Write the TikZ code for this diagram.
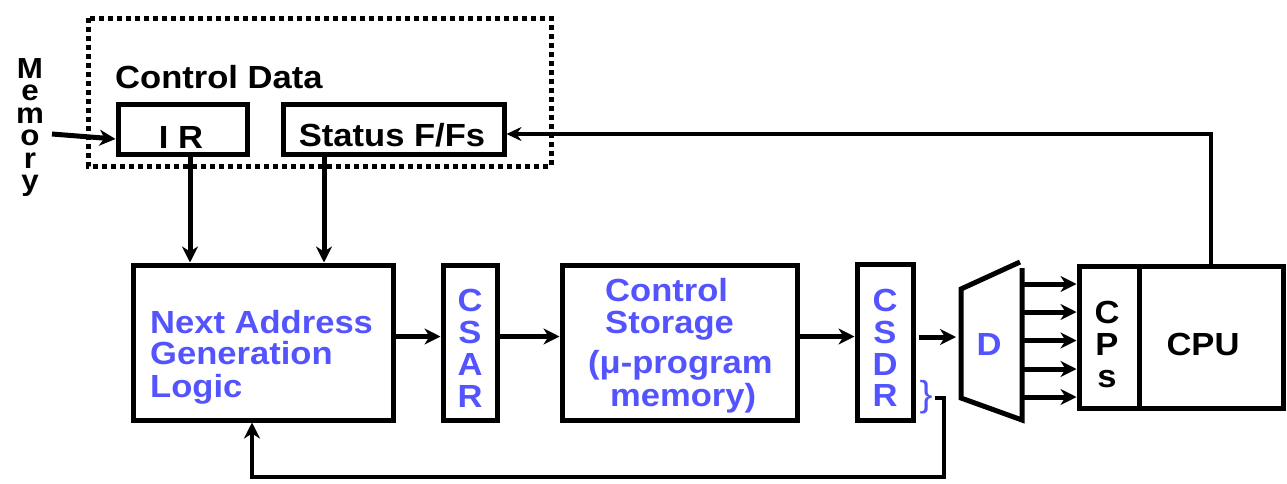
\documentclass[tikz,border=0pt]{standalone}
\usepackage{fontspec}
\setmainfont{Liberation Sans}[FakeStretch=1.08]
\usetikzlibrary{arrows.meta}
\definecolor{lblblue}{RGB}{84,84,255}
\begin{document}
\begin{tikzpicture}[x=1pt,y=-1pt,
  blk/.style={draw, line width=5pt, rectangle, inner sep=0pt},
  edge/.style={line width=5pt},
  txt/.style={font=\fontsize{32}{32}\selectfont\bfseries, inner sep=0pt},
  bluetxt/.style={txt, text=lblblue},
  wire/.style={line width=5pt},
  arr/.style={wire, -{Stealth[length=16pt,width=16pt,inset=5pt]}},
  thinarr/.style={line width=4pt, -{Stealth[length=15pt,width=14pt,inset=5pt]}},
  dotbox/.style={line width=5pt, dash pattern=on 5pt off 4pt}
]
\useasboundingbox (0,0) rectangle (1287,483);

% control data group
\draw[dotbox] (88,18) rectangle (551,166);
\node[txt, anchor=base west] (cdata) at (115,88) {Control Data};
\node[blk, minimum width=129pt, minimum height=50pt] (ir) at (182.5,129) {};
\node[txt, anchor=base] (irt) at (181,148) {I R};
\node[blk, minimum width=221pt, minimum height=50pt] (stat) at (393.5,129) {};
\node[txt, anchor=base] (statt) at (392,146) {Status F/Fs};

% memory label, one letter per line
\node[font=\fontsize{29}{22.5}\selectfont\bfseries, inner sep=0pt, align=center, anchor=north] (mem) at (30,58) {M\\e\\m\\o\\r\\y};
\coordinate (memin) at (52,134);
\draw[arr] (memin) -- ([yshift=-10pt]ir.west);

% main data path
\node[blk, minimum width=260pt, minimum height=155pt] (nagl) at (263,342.5) {};
\node[bluetxt, anchor=base west] (n1) at (150,333) {Next Address};
\node[bluetxt, anchor=base west] (n2) at (150,364) {Generation};
\node[bluetxt, anchor=base west] (n3) at (150,397) {Logic};

\node[blk, minimum width=54pt, minimum height=155pt] (csar) at (470,342.5) {};
\foreach \ch [count=\i from 0] in {C,S,A,R}
  \node[bluetxt, anchor=base] (csar\i) at (470,311+32*\i) {\ch};

\node[blk, minimum width=235pt, minimum height=155pt] (cs) at (679.5,342.5) {};
\node[bluetxt, anchor=base west] (c1) at (605,301) {Control};
\node[bluetxt, anchor=base west] (c2) at (605,333) {Storage};
\node[bluetxt, anchor=base west] (c3) at (588,373) {(μ-program};
\node[bluetxt, anchor=base west] (c4) at (610,406) {memory)};

\node[blk, minimum width=56pt, minimum height=156pt] (csdr) at (885,342.5) {};
\foreach \ch [count=\i from 0] in {C,S,D,R}
  \node[bluetxt, anchor=base] (csdr\i) at (885,311.5+31.8*\i) {\ch};
\node[font=\fontsize{36}{36}\selectfont, text=lblblue, inner sep=0pt] (brace) at (926,397) {\}};

% decoder
\draw[edge] (1020,262) -- (961,289) -- (961,398) -- (1022,420) -- (1022,268);
\node[bluetxt, anchor=base] (dtxt) at (989,355) {D};

% CPU block
\node[blk, minimum width=60pt, minimum height=142pt] (cps) at (1109,337) {};
\node[blk, minimum width=144pt, minimum height=142pt] (cpu) at (1211,337) {};
\node[txt, anchor=base] (cp0) at (1107,323) {C};
\node[txt, anchor=base] (cp1) at (1107,355) {P};
\node[txt, anchor=base] (cp2) at (1107,387) {s};
\node[txt, anchor=base] (cput) at (1203,355) {CPU};

% connectors
\draw[arr] ([xshift=7.5pt]ir.south) -- ([xshift=7.5pt]ir.south |- nagl.north);
\draw[arr] ([xshift=-69.5pt]stat.south) -- ([xshift=-69.5pt]stat.south |- nagl.north);
\draw[arr] ([yshift=6pt]nagl.east) -- ([yshift=6pt]csar.west);
\draw[arr] ([yshift=6pt]csar.east) -- ([yshift=6pt]cs.west);
\draw[arr] ([yshift=6pt]cs.east) -- ([yshift=6pt]csdr.west);
\coordinate (din) at (956,337);
\draw[arr] ([xshift=3pt]csdr.east |- din) -- (din);
\foreach \yy in {284,312,340.5,369,397} {
  \coordinate (dout) at (1024,\yy);
  \draw[arr] (dout) -- (dout -| cps.west);
}
\draw[thinarr] (cpu.north) |- ([yshift=-5pt]stat.east);

% feedback from CSDR to next address logic
\coordinate (fbstart) at (935,398);
\coordinate (fbx) at (252,477);
\draw[arr, line width=4.5pt] (fbstart) -- ++(9,0) |- (fbx) -- (fbx |- nagl.south);
\end{tikzpicture}
\end{document}
